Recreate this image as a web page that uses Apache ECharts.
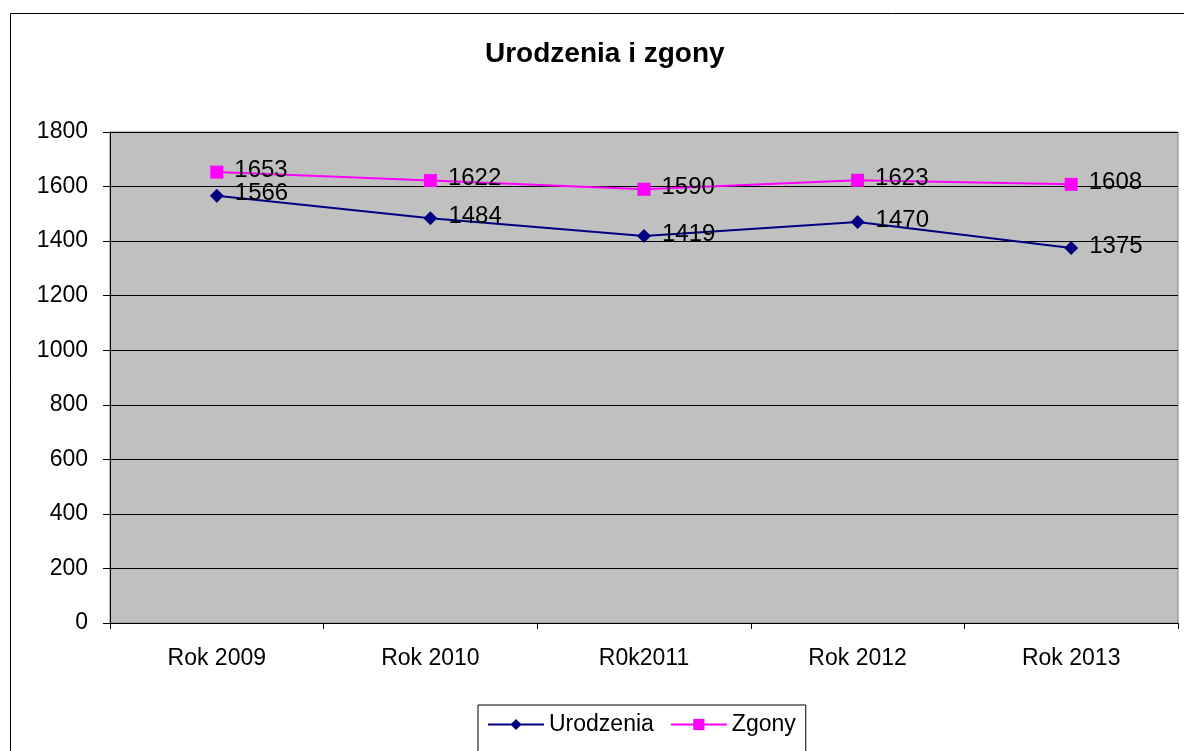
<!DOCTYPE html>
<html><head><meta charset="utf-8">
<script src="https://cdn.jsdelivr.net/npm/echarts@6/dist/echarts.min.js"></script>
<style>html,body{margin:0;padding:0;background:#fff}#c{width:1184px;height:751px}</style>
</head><body><div id="c"></div>
<script>
const categories = ['Rok 2009', 'Rok 2010', 'R0k2011', 'Rok 2012', 'Rok 2013'];
const urodzenia = [1566, 1484, 1419, 1470, 1375];
const zgony = [1653, 1622, 1590, 1623, 1608];
const yTicks = [0, 200, 400, 600, 800, 1000, 1200, 1400, 1600, 1800];

const font = 'Liberation Sans, Arial, sans-serif';
const chart = echarts.init(document.getElementById('c'));
chart.setOption({
  backgroundColor: '#ffffff',
  animation: false,
  graphic: [{
    type: 'rect', shape: {x: 10.5, y: 13.5, width: 1190, height: 760},
    style: {fill: 'none', stroke: '#000', lineWidth: 1}, silent: true, z: -1
  }],
  title: {
    text: 'Urodzenia i zgony', left: 480, top: 35,
    textStyle: {fontFamily: font, fontSize: 28, fontWeight: 'bold', color: '#000'}
  },
  legend: {
    left: 478, top: 705,
    itemWidth: 56, itemHeight: 14, itemGap: 16,
    padding: [8, 10, 30, 9],
    borderColor: '#000', borderWidth: 1,
    textStyle: {fontFamily: font, fontSize: 23, color: '#000'},
    data: ['Urodzenia', 'Zgony']
  },
  grid: {
    left: 110, top: 132, right: 6, bottom: 128,
    show: true, backgroundColor: '#C0C0C0', borderColor: '#808080', borderWidth: 1
  },
  xAxis: {
    type: 'category', data: categories, boundaryGap: true,
    axisLine: {lineStyle: {color: '#000', width: 1}},
    axisTick: {show: true, length: 6, lineStyle: {color: '#000'}},
    axisLabel: {fontFamily: font, fontSize: 23, color: '#000', margin: 24}
  },
  yAxis: {
    type: 'value', min: yTicks[0], max: yTicks[yTicks.length - 1], interval: 200,
    axisLine: {show: true, lineStyle: {color: '#000', width: 1}},
    axisTick: {show: true, length: 7, lineStyle: {color: '#000'}},
    axisLabel: {fontFamily: font, fontSize: 23, color: '#000', margin: 22, formatter: v => String(v)},
    splitLine: {show: true, lineStyle: {color: '#000', width: 1}}
  },
  series: [{
    name: 'Urodzenia', type: 'line', data: urodzenia,
    symbol: 'diamond', symbolSize: 14,
    itemStyle: {color: '#000080'}, lineStyle: {color: '#000080', width: 2},
    label: {show: true, position: 'right', distance: 11, fontFamily: font, fontSize: 24, color: '#000', offset: [0, -2]}
  }, {
    name: 'Zgony', type: 'line', data: zgony,
    symbol: 'rect', symbolSize: 13,
    itemStyle: {color: '#FF00FF'}, lineStyle: {color: '#FF00FF', width: 2},
    label: {show: true, position: 'right', distance: 11, fontFamily: font, fontSize: 24, color: '#000', offset: [0, -2]}
  }]
});
</script></body></html>
